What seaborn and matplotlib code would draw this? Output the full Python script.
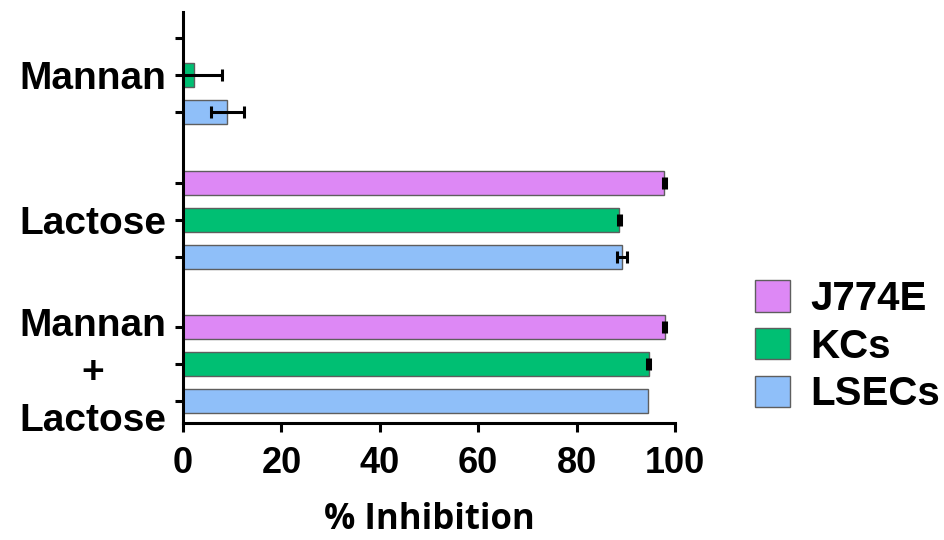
import numpy as np
import pandas as pd
import matplotlib
matplotlib.use("Agg")
import matplotlib.pyplot as plt
import seaborn as sns

# Treatments (y categories) and cell types (hue)
treatments = ["Mannan", "Lactose", "Mannan\n+\nLactose"]
cell_types = ["J774E", "KCs", "LSECs"]

# % inhibition per cell type, in treatment order (J774E not tested with mannan)
j774e = [np.nan, 97.8, 97.9]
kcs = [2.3, 88.7, 94.7]
lsecs = [9.0, 89.2, 94.5]

# error (SD) per cell type, in treatment order
j774e_err = [0.0, 0.3, 0.3]
kcs_err = [5.6, 0.3, 0.3]
lsecs_err = [3.4, 1.0, 0.0]

palette = ["#DD88F5", "#00BF73", "#8FBFF9"]

values = [j774e, kcs, lsecs]
errors = [j774e_err, kcs_err, lsecs_err]

rows = []
for ct, vals in zip(cell_types, values):
    for t, v in zip(treatments, vals):
        rows.append({"treatment": t, "cell": ct, "inhibition": v})
df = pd.DataFrame(rows)

sns.set_theme(style="ticks")
plt.rcParams["font.family"] = ["Liberation Sans", "DejaVu Sans"]
plt.rcParams["font.weight"] = "bold"
for key in ["text.color", "axes.labelcolor", "xtick.color", "ytick.color",
            "xtick.labelcolor", "ytick.labelcolor", "axes.edgecolor"]:
    plt.rcParams[key] = "black"

W, H = 945, 540
fig = plt.figure(figsize=(W / 100, H / 100), dpi=100)
ax = fig.add_axes([183 / W, 1 - 423 / H, (675 - 183) / W, (423 - 12) / H])

sns.barplot(
    data=df, y="treatment", x="inhibition", hue="cell",
    order=treatments, hue_order=cell_types, palette=palette,
    orient="h", width=0.77, gap=0.35, errorbar=None,
    edgecolor="#5e5e5e", linewidth=1.0, saturation=1, ax=ax,
)

# error bars at each bar end
bar_containers = list(ax.containers)
offsets = set()
for i, cont in enumerate(bar_containers):
    for bar in cont:
        if bar is None:
            continue
        w = bar.get_width()
        if not np.isfinite(w):
            continue
        yc = bar.get_y() + bar.get_height() / 2
        cat = int(round(yc))
        offsets.add(round(yc - cat, 4))
        err = errors[i][cat]
        if err > 0:
            ax.errorbar(w, yc, xerr=err, fmt="none", ecolor="black",
                        elinewidth=2.2, capsize=4.3, capthick=2.2, zorder=4)

offsets = sorted(offsets)
minor_pos = [c + o for c in range(len(treatments)) for o in offsets if abs(o) > 1e-6]

ax.set_xlim(0, 100)
ax.set_ylim(2.41, -0.44)
ax.set_xticks([0, 20, 40, 60, 80, 100])
ax.set_yticks(range(len(treatments)), labels=treatments)
ax.set_yticks(minor_pos, minor=True)
for lbl in ax.get_yticklabels():
    lbl.set_multialignment("center")
    lbl.set_linespacing(1.4)

ax.tick_params(axis="y", which="both", length=6, width=2.2, labelsize=28, pad=6, color="black")
ax.tick_params(axis="x", which="both", length=6.5, width=2.2, labelsize=26, pad=10, color="black")

sns.despine(ax=ax)
for s in ["left", "bottom"]:
    ax.spines[s].set_linewidth(2.2)
    ax.spines[s].set_color("black")

ax.set_ylabel("")
ax.set_xlabel("% Inhibition", fontsize=25, fontweight="bold",
              family=["Open Sans", "DejaVu Sans"], labelpad=15, color="black")

handles, labels = ax.get_legend_handles_labels()
ax.legend(
    handles, labels, loc="upper left",
    bbox_to_anchor=(755 / W, 1 - 280 / H), bbox_transform=fig.transFigure,
    frameon=False, prop={"size": 29, "weight": "bold"},
    handlelength=0.875, handleheight=0.82, handletextpad=0.5,
    labelspacing=0.24, borderpad=0, borderaxespad=0,
)

fig.savefig("out.png", dpi=100)
